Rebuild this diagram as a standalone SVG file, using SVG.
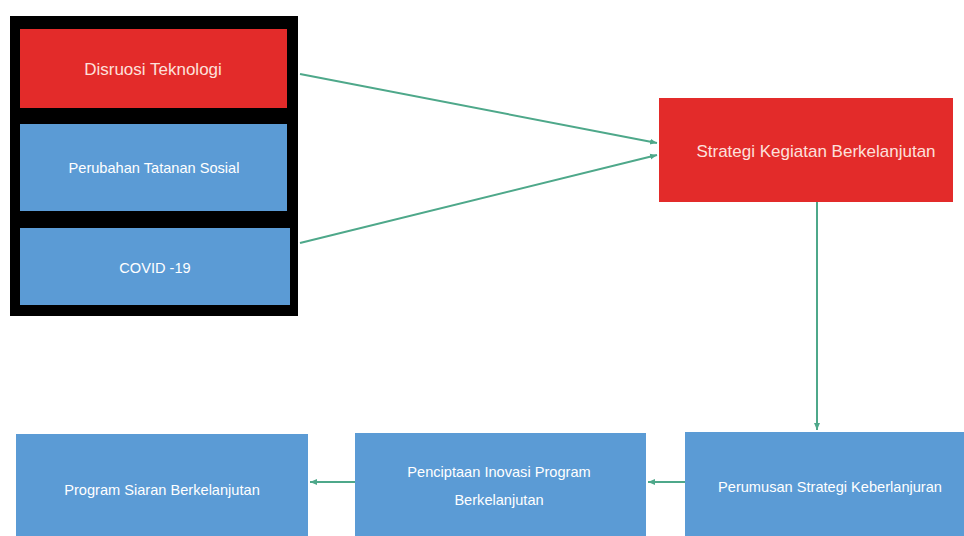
<svg xmlns="http://www.w3.org/2000/svg" width="964" height="536" viewBox="0 0 964 536">
<defs>
<marker id="ah" markerWidth="8" markerHeight="8" refX="7" refY="4" orient="auto" markerUnits="userSpaceOnUse">
<path d="M0,1 L7,4 L0,7 Z" fill="#4ea88a"/>
</marker>
</defs>
<style>
.red{fill:#e32b2a;}
.blue{fill:#5b9bd5;}
.t{fill:#ffffff;font-family:"Liberation Sans","DejaVu Sans",sans-serif;font-size:14.6px;text-anchor:middle;dominant-baseline:central;}
.tr{fill:#fde0dc;font-family:"Liberation Sans","DejaVu Sans",sans-serif;font-size:17px;text-anchor:middle;dominant-baseline:central;}
.c{stroke:#4ea88a;stroke-width:2;fill:none;marker-end:url(#ah);}
</style>
<rect width="964" height="536" fill="#ffffff"/>
<g id="frame"><rect x="10" y="16" width="288" height="300" fill="#000000"/></g>
<g id="n1"><rect class="red" x="20" y="29" width="267" height="79"/><text class="tr" x="153" y="69">Disruosi Teknologi</text></g>
<g id="n2"><rect class="blue" x="20" y="124" width="267" height="87"/><text class="t" x="154" y="168">Perubahan Tatanan Sosial</text></g>
<g id="n3"><rect class="blue" x="20" y="228" width="270" height="77"/><text class="t" x="155" y="268">COVID -19</text></g>
<g id="n4"><rect class="red" x="659" y="98" width="294" height="104"/><text class="tr" x="816" y="151">Strategi Kegiatan Berkelanjutan</text></g>
<g id="n5"><rect class="blue" x="685" y="432" width="279" height="104"/><text class="t" x="830" y="487">Perumusan Strategi Keberlanjuran</text></g>
<g id="n6"><rect class="blue" x="355" y="433" width="291" height="103"/><text class="t" x="499" y="472">Penciptaan Inovasi Program</text><text class="t" x="499" y="500">Berkelanjutan</text></g>
<g id="n7"><rect class="blue" x="16" y="434" width="292" height="102"/><text class="t" x="162" y="490">Program Siaran Berkelanjutan</text></g>
<g id="connectors">
<line class="c" x1="300" y1="74" x2="657" y2="143"/>
<line class="c" x1="300" y1="243" x2="657" y2="155"/>
<line class="c" x1="817" y1="202" x2="817" y2="430"/>
<line class="c" x1="685" y1="482" x2="648" y2="482"/>
<line class="c" x1="355" y1="482" x2="310" y2="482"/>
</g>
</svg>
